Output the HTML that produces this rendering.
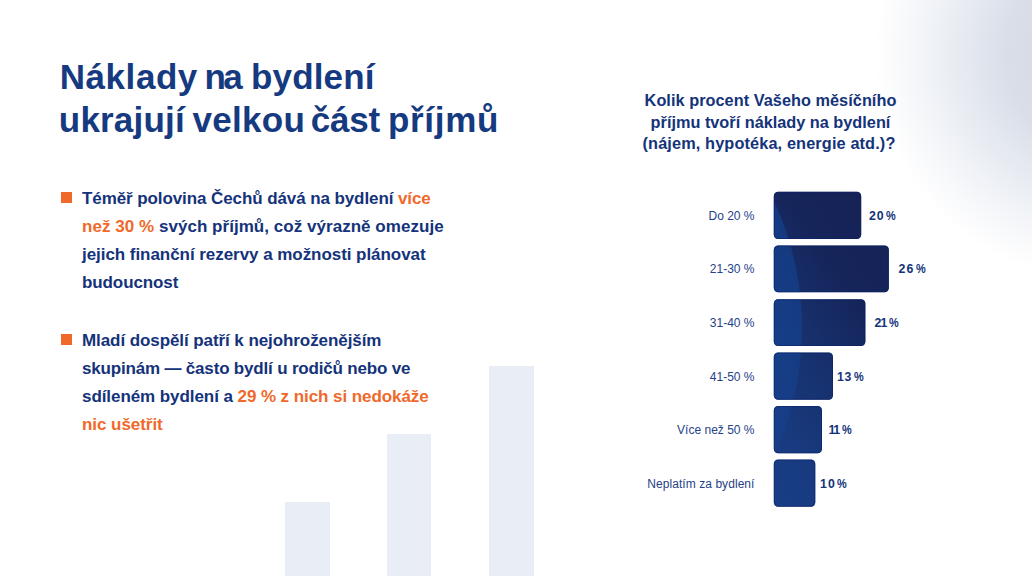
<!DOCTYPE html>
<html lang="cs">
<head>
<meta charset="utf-8">
<title>Náklady na bydlení</title>
<style>
*{margin:0;padding:0;box-sizing:border-box}
html,body{width:1032px;height:576px;overflow:hidden;background:#fff}
body{font-family:"Liberation Sans",sans-serif;position:relative;color:#17377f}
.bg{position:absolute;left:0;top:0;width:1032px;height:576px;
 background:radial-gradient(circle at 1100px 55px, #d5dae6 0px, #d7dce7 70px, #d9dee9 95px, #e4e8ef 130px, #eef1f6 165px, #f8f9fb 198px, #ffffff 226px);}
.deco{position:absolute;background:#e9edf5}
.t{position:absolute;font-size:35px;line-height:44px;font-weight:bold;color:#163a80;white-space:nowrap}
.bul{position:absolute;left:61px;width:11px;height:11px;background:#f0692a}
.p{position:absolute;left:82px;font-size:17px;line-height:28px;font-weight:bold;color:#14337a;white-space:nowrap}
.o{color:#f0692a}
.q{position:absolute;left:620px;width:301px;text-align:center;font-size:16.3px;line-height:22px;font-weight:bold;color:#14337a;white-space:nowrap}
.lab{position:absolute;right:277.5px;font-size:12px;line-height:14px;color:#1f4288;white-space:nowrap;text-align:right}
.val{position:absolute;font-size:12.3px;line-height:14px;font-weight:bold;color:#14337a;white-space:nowrap;word-spacing:-1.3px}
svg{position:absolute;left:0;top:0}
.pc{position:absolute;top:0;letter-spacing:0;font-size:12.1px;line-height:14px;transform:scaleX(0.9);transform-origin:0 0}
</style>
</head>
<body>
<div class="bg"></div>
<div class="deco" style="left:285.4px;top:502px;width:44.8px;height:74px"></div>
<div class="deco" style="left:386.8px;top:434px;width:44.5px;height:142px"></div>
<div class="deco" style="left:489px;top:366px;width:44.8px;height:210px"></div>

<div class="t" style="left:59.7px;top:55px;letter-spacing:0.567px">Náklady</div>
<div class="t" style="left:204.4px;top:55px;letter-spacing:-2.6px">na</div>
<div class="t" style="left:251.0px;top:55px;letter-spacing:0.167px">bydlení</div>
<div class="t" style="left:58.8px;top:98px;letter-spacing:0.2px">ukrajují</div>
<div class="t" style="left:192.6px;top:98px;letter-spacing:0.28px">velkou</div>
<div class="t" style="left:310.8px;top:98px;letter-spacing:-0.2px">část</div>
<div class="t" style="left:388.0px;top:98px;letter-spacing:0.68px">příjmů</div>

<div class="bul" style="top:192px"></div>
<div class="p" id="p1" style="top:185px;letter-spacing:-0.09px">Téměř polovina Čechů dává na bydlení <span class="o">více</span></div>
<div class="p" id="p2" style="top:213px;letter-spacing:0.04px"><span class="o">než 30 %</span> svých příjmů, což výrazně omezuje</div>
<div class="p" id="p3" style="top:241px;letter-spacing:-0.05px">jejich finanční rezervy a možnosti plánovat</div>
<div class="p" id="p4" style="top:269px;letter-spacing:-0.1px">budoucnost</div>

<div class="bul" style="top:334px"></div>
<div class="p" id="p5" style="top:327px;letter-spacing:-0.08px">Mladí dospělí patří k nejohroženějším</div>
<div class="p" id="p6" style="top:355px;letter-spacing:-0.18px">skupinám — často bydlí u rodičů nebo ve</div>
<div class="p" id="p7" style="top:383px;letter-spacing:-0.07px">sdíleném bydlení a <span class="o">29 % z nich si nedokáže</span></div>
<div class="p" id="p8" style="top:411px;letter-spacing:-0.05px"><span class="o">nic ušetřit</span></div>

<div class="q" id="q1" style="top:89px;letter-spacing:0.04px">Kolik procent Vašeho měsíčního</div>
<div class="q" id="q2" style="top:111px">příjmu tvoří náklady na bydlení</div>
<div class="q" id="q3" style="top:132px;left:618.5px;letter-spacing:0.13px">(nájem, hypotéka, energie atd.)?</div>

<svg width="1032" height="576" viewBox="0 0 1032 576">
 <defs>
  <linearGradient id="g" gradientUnits="userSpaceOnUse" x1="889" y1="192" x2="663" y2="339">
   <stop offset="0" stop-color="#152256"/>
   <stop offset="0.3" stop-color="#152459"/>
   <stop offset="0.54" stop-color="#17306c"/>
   <stop offset="0.65" stop-color="#173473"/>
   <stop offset="0.81" stop-color="#183a7f"/>
   <stop offset="0.95" stop-color="#183d85"/>
   <stop offset="1" stop-color="#183e87"/>
  </linearGradient>
  <linearGradient id="ov" gradientUnits="userSpaceOnUse" x1="0" y1="195" x2="0" y2="470">
   <stop offset="0" stop-color="#1252ae" stop-opacity="0.42"/>
   <stop offset="0.5" stop-color="#1252ae" stop-opacity="0.34"/>
   <stop offset="1" stop-color="#1252ae" stop-opacity="0.12"/>
  </linearGradient>
  <clipPath id="c">
   <rect x="773.8" y="191.8" width="87.4" height="47.2" rx="4.2"/>
   <rect x="773.8" y="245.5" width="115.1" height="46.7" rx="4.2"/>
   <rect x="773.8" y="299.2" width="91.6" height="46.8" rx="4.2"/>
   <rect x="773.8" y="352.6" width="59.2" height="47.2" rx="4.2"/>
   <rect x="773.8" y="406.0" width="48.2" height="47.3" rx="4.2"/>
   <rect x="773.8" y="459.6" width="41.5" height="47.2" rx="4.2"/>
  </clipPath>
 </defs>
 <g clip-path="url(#c)">
  <rect x="770" y="190" width="130" height="320" fill="url(#g)"/>
  <circle cx="501.5" cy="328" r="300.5" fill="url(#ov)"/>
 </g>
 <g fill="none" stroke="#0a2068" stroke-opacity="0.55" stroke-width="1">
   <rect x="774.3" y="192.3" width="86.4" height="46.2" rx="3.7"/>
   <rect x="774.3" y="246.0" width="114.1" height="45.7" rx="3.7"/>
   <rect x="774.3" y="299.7" width="90.6" height="45.8" rx="3.7"/>
   <rect x="774.3" y="353.1" width="58.2" height="46.2" rx="3.7"/>
   <rect x="774.3" y="406.5" width="47.2" height="46.3" rx="3.7"/>
   <rect x="774.3" y="460.1" width="40.5" height="46.2" rx="3.7"/>
 </g>
</svg>

<div class="lab" style="top:208.5px">Do 20 %</div>
<div class="val" style="top:208.5px;left:869.0px;letter-spacing:1.0px">20<span class="pc" style="left:17.4px">%</span></div>
<div class="lab" style="top:262px">21-30 %</div>
<div class="val" style="top:262px;left:898.5px;letter-spacing:1.2px">26<span class="pc" style="left:17.1px">%</span></div>
<div class="lab" style="top:315.5px">31-40 %</div>
<div class="val" style="top:315.5px;left:874.6px;letter-spacing:-1.0px">21<span class="pc" style="left:14.4px">%</span></div>
<div class="lab" style="top:370px">41-50 %</div>
<div class="val" style="top:370px;left:837.0px;letter-spacing:0.6px">13<span class="pc" style="left:16.9px">%</span></div>
<div class="lab" style="top:422.5px">Více než 50 %</div>
<div class="val" style="top:422.5px;left:828.5px;letter-spacing:-1.5px">11<span class="pc" style="left:13.6px">%</span></div>
<div class="lab" style="top:477px;letter-spacing:0.06px">Neplatím za bydlení</div>
<div class="val" style="top:477px;left:820.1px;letter-spacing:1.0px">10<span class="pc" style="left:17.3px">%</span></div>
</body>
</html>
